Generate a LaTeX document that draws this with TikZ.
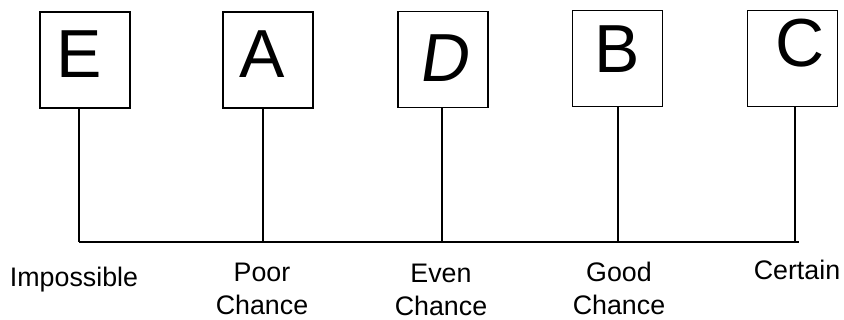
\documentclass[tikz,border=0pt]{standalone}
\usepackage{fontspec}
\setmainfont{Liberation Sans}
\begin{document}
\begin{tikzpicture}[x=1pt,y=-1pt,
  box/.style={draw=black,line width=1.4pt,minimum width=90pt,minimum height=96pt,inner sep=0pt},
  letter/.style={anchor=base,inner sep=0pt,font=\fontsize{68}{68}\selectfont},
  lbl/.style={anchor=base,inner sep=0pt,align=center,font=\fontsize{26.8}{33.5}\selectfont},
  conn/.style={line width=1.2pt}]
\useasboundingbox (0,0) rectangle (844,320);
% boxes
\node[box] (E) at (85,60) {};
\node[box] (A) at (268,60) {};
\node[box] (D) at (443,59.5) {};
\node[box] (B) at (617.5,58.5) {};
\node[box] (C) at (792.5,58.5) {};
% letters
\node[letter] (lE) at (79,78) {E};
\node[letter] (lA) at (262,78) {A};
\node[letter,xslant=0.15] (lD) at (443,82) {D};
\node[letter] (lB) at (617,73) {B};
\node[letter] (lC) at (800,67) {C};
% axis points
\coordinate (tE) at (79,242);
\coordinate (tA) at (263,242);
\coordinate (tD) at (442,242);
\coordinate (tB) at (618,242);
\coordinate (tC) at (795,242);
\coordinate (tEnd) at (799,242);
\draw[conn] (E.south -| tE) -- (tE);
\draw[conn] (A.south -| tA) -- (tA);
\draw[conn] (D.south -| tD) -- (tD);
\draw[conn] (B.south -| tB) -- (tB);
\draw[conn] (C.south -| tC) -- (tC);
\draw[conn] (tE) -- (tEnd);
% labels
\node[lbl] (nImp) at (74,287) {Impossible};
\node[lbl] (nPoor) at (262,315) {Poor\\Chance};
\node[lbl] (nEven) at (441,316) {Even\\Chance};
\node[lbl] (nGood) at (619,315) {Good\\Chance};
\node[lbl] (nCert) at (797,280) {Certain};
\end{tikzpicture}
\end{document}
